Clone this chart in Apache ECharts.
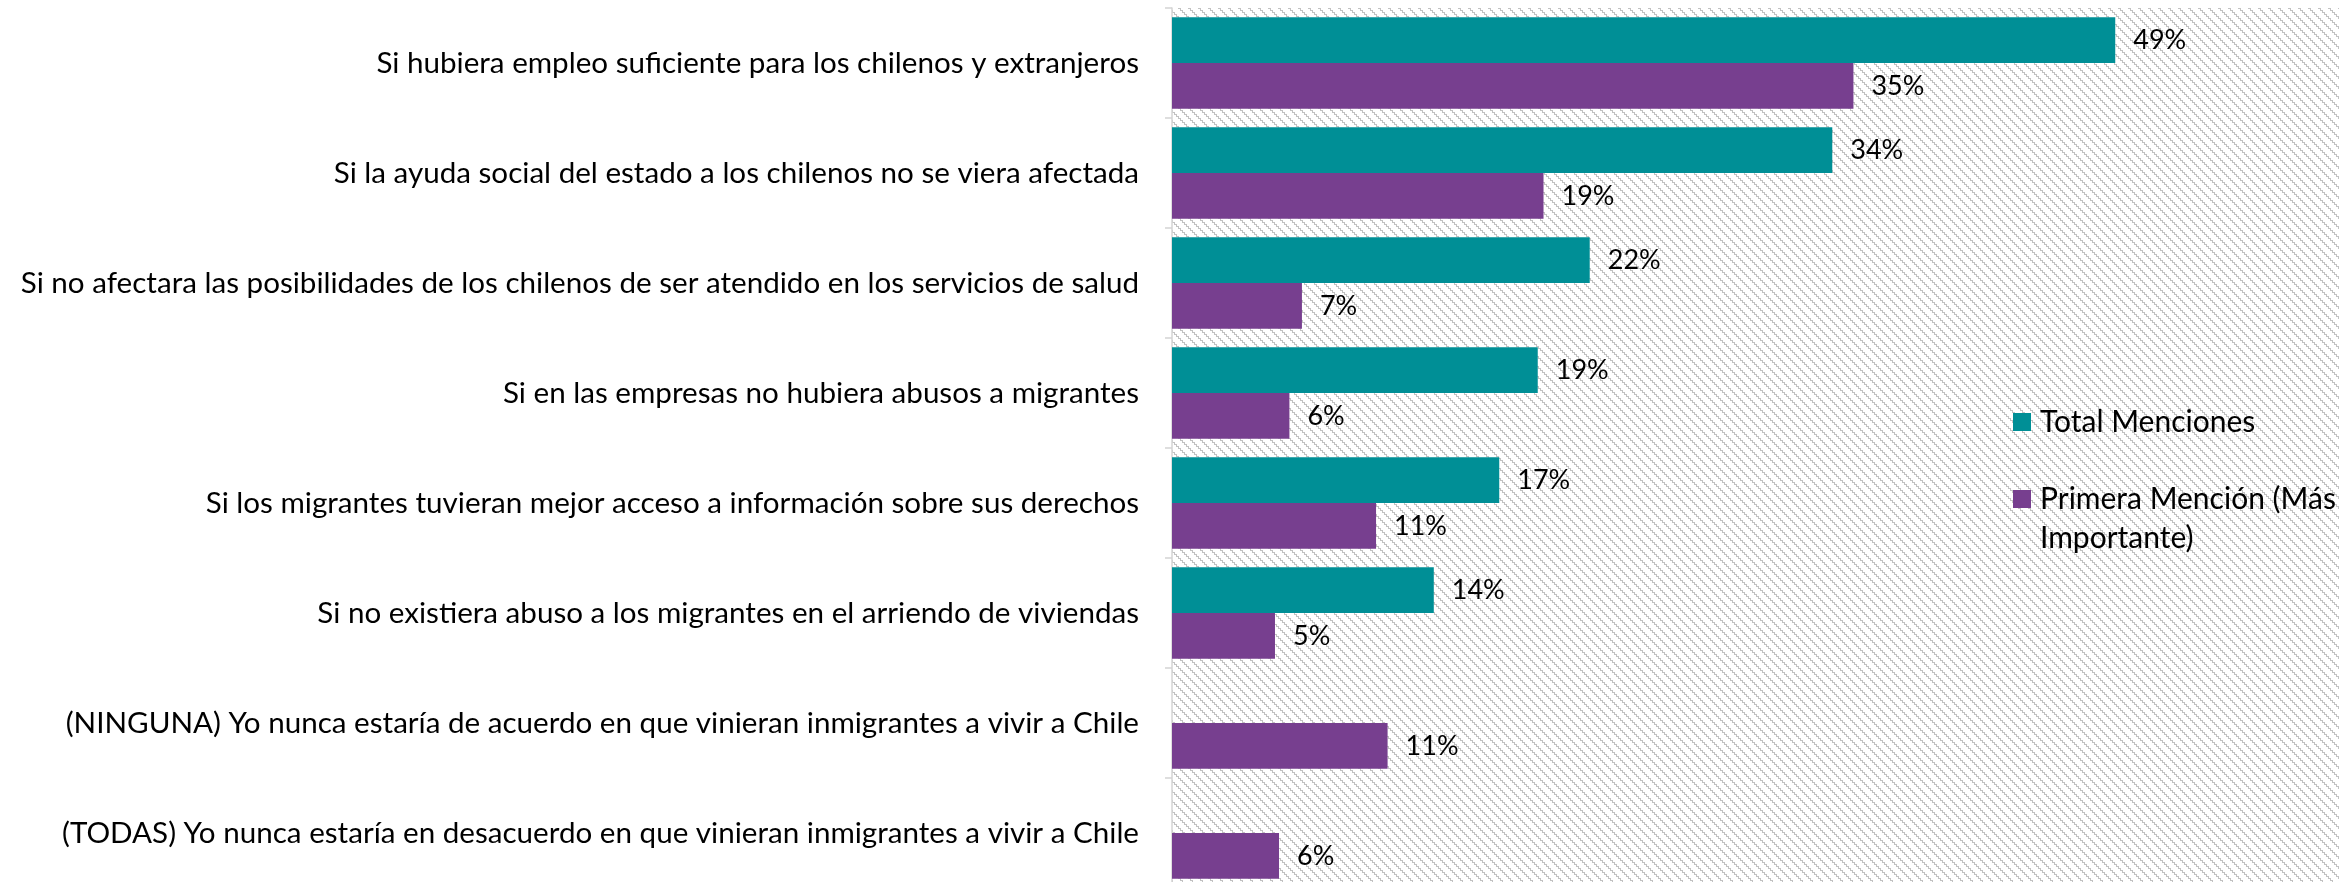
<!DOCTYPE html>
<html>
<head>
<meta charset="utf-8">
<script src="https://cdn.jsdelivr.net/npm/echarts@6/dist/echarts.min.js"></script>
<style>
html,body{margin:0;padding:0;background:#fff;}
#chart{width:2339px;height:882px;}
</style>
</head>
<body>
<div id="chart"></div>
<script>
const categories = [
  'Si hubiera empleo suficiente para los chilenos y extranjeros',
  'Si la ayuda social del estado a los chilenos no se viera afectada',
  'Si no afectara las posibilidades de los chilenos de ser atendido en los servicios de salud',
  'Si en las empresas no hubiera abusos a migrantes',
  'Si los migrantes tuvieran mejor acceso a información sobre sus derechos',
  'Si no existiera abuso a los migrantes en el arriendo de viviendas',
  '(NINGUNA) Yo nunca estaría de acuerdo en que vinieran inmigrantes a vivir a Chile',
  '(TODAS) Yo nunca estaría en desacuerdo en que vinieran inmigrantes a vivir a Chile'
];
const totalMenciones = [0.49, 0.343, 0.217, 0.19, 0.17, 0.136, null, null];
const primeraMencion = [0.354, 0.193, 0.0675, 0.061, 0.106, 0.0535, 0.112, 0.0556];
const seriesNames = ['Total Menciones', 'Primera Mención (Más Importante)'];
const legendLabels = ['Total Menciones', '\nPrimera Mención (Más\nImportante)'];

// hatch pattern tile (staircase diagonal)
function makeHatch() {
  const n = 10;
  const c = document.createElement('canvas');
  c.width = n; c.height = n;
  const ctx = c.getContext('2d');
  ctx.fillStyle = '#ffffff';
  ctx.fillRect(0, 0, n, n);
  ctx.fillStyle = '#c2c2c2';
  for (let k = 0; k < n / 2; k++) {
    const x = 2 * k, y = 2 * k;
    ctx.fillRect(x, y, 3, 1);
    ctx.fillRect((x + 2) % n, y, 1, 3);
  }
  return c;
}

const FONT = 'Lato';
const chart = echarts.init(document.getElementById('chart'), null, {renderer: 'canvas'});
const labelFmt = p => Math.round(p.value * 100) + '%';

chart.setOption({
  animation: false,
  backgroundColor: '#ffffff',
  textStyle: {fontFamily: FONT},
  grid: {
    left: 1172, top: 8, width: 1193.5, height: 880,
    outerBoundsMode: 'none',
    containLabel: false,
    show: true,
    borderWidth: 0,
    backgroundColor: {image: makeHatch(), repeat: 'repeat'}
  },
  xAxis: {
    type: 'value', min: 0, max: 0.62,
    show: false,
    splitLine: {show: false}
  },
  yAxis: {
    type: 'category',
    data: categories,
    inverse: true,
    axisLine: {show: true, lineStyle: {color: '#d4d4d4', width: 1.5}},
    axisTick: {show: true, length: 7, lineStyle: {color: '#d4d4d4', width: 1.5}},
    axisLabel: {margin: 33, fontSize: 29.6, color: '#000', fontFamily: FONT}
  },
  legend: [
    {
      data: [seriesNames[0]],
      left: 2013, top: 402.5,
      padding: 0,
      icon: 'rect', itemWidth: 18, itemHeight: 18,
      formatter: () => legendLabels[0],
      textStyle: {fontSize: 30, lineHeight: 39, color: '#000', fontFamily: FONT, padding: [0, 0, 0, 4]}
    },
    {
      data: [seriesNames[1]],
      left: 2013, top: 440.5,
      padding: 0,
      icon: 'rect', itemWidth: 18, itemHeight: 18,
      formatter: () => legendLabels[1],
      textStyle: {fontSize: 30, lineHeight: 39, color: '#000', fontFamily: FONT, padding: [0, 0, 0, 4]}
    }
  ],
  series: [
    {
      name: seriesNames[0],
      type: 'bar',
      data: totalMenciones,
      barGap: '0%',
      barCategoryGap: '17%',
      itemStyle: {color: '#008F96'},
      label: {show: true, position: 'right', distance: 18, formatter: labelFmt,
        fontSize: 27, color: '#000', fontFamily: FONT}
    },
    {
      name: seriesNames[1],
      type: 'bar',
      data: primeraMencion,
      barGap: '0%',
      barCategoryGap: '17%',
      itemStyle: {color: '#773F8F'},
      label: {show: true, position: 'right', distance: 18, formatter: labelFmt,
        fontSize: 27, color: '#000', fontFamily: FONT}
    }
  ]
});
</script>
</body>
</html>
